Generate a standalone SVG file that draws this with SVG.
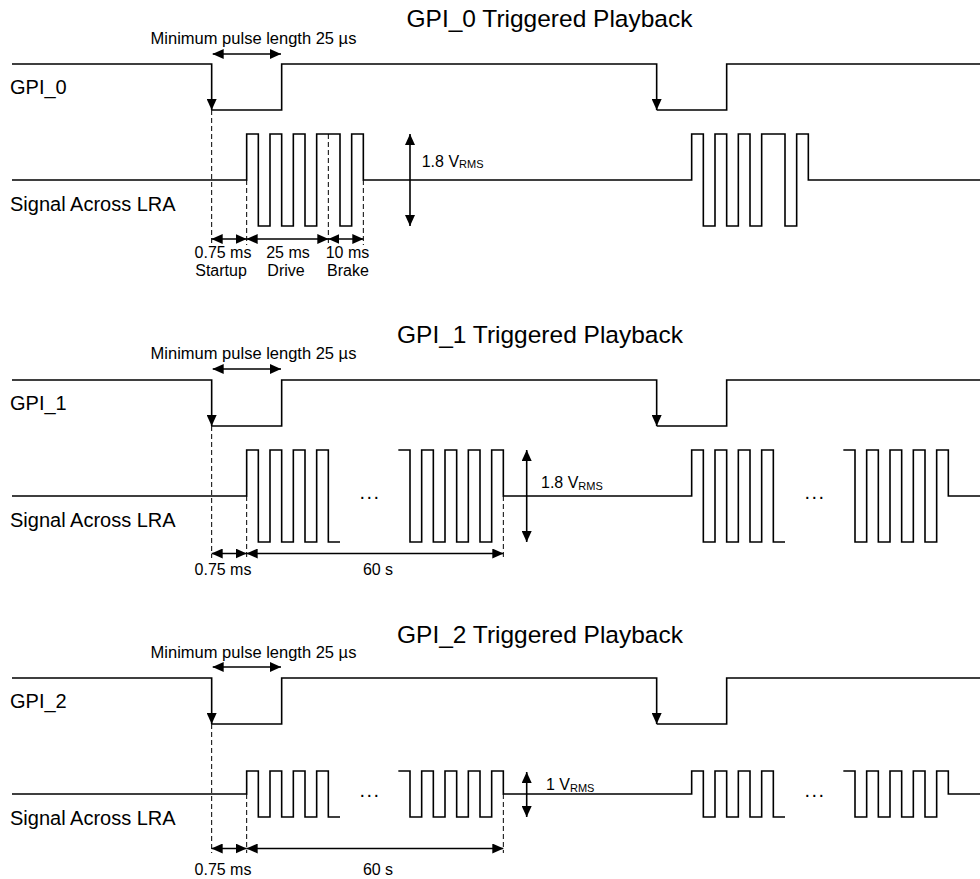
<svg xmlns="http://www.w3.org/2000/svg" width="980" height="879" viewBox="0 0 980 879">
<defs>
<marker id="ah" viewBox="0 0 11 10" refX="11" refY="5" markerWidth="11" markerHeight="10" markerUnits="userSpaceOnUse" orient="auto-start-reverse">
<path d="M0,0 L11,5 L0,10 z" fill="#000"/>
</marker>
</defs>
<style>
text{font-family:"Liberation Sans",Arial,Helvetica,sans-serif;fill:#000}
.title{font-size:24.5px;text-anchor:middle}
.lbl{font-size:20px}
.sm{font-size:16px}
.mid{text-anchor:middle}
.mp{font-size:16.5px;text-anchor:middle}
.dots{font-size:20px;text-anchor:middle;letter-spacing:1.5px}
.wave{fill:none;stroke:#000;stroke-width:1.6;stroke-linejoin:miter}
.dash{fill:none;stroke:#000;stroke-width:1;stroke-dasharray:5,3}
.dim{fill:none;stroke:#000;stroke-width:1.6;marker-start:url(#ah);marker-end:url(#ah)}
.arr{fill:none;stroke:#000;stroke-width:1.6;marker-end:url(#ah)}
</style>

<g id="panel-gpi0">
<text class="title" x="549.5" y="27">GPI_0 Triggered Playback</text>
<text class="mp" x="253.5" y="43.5">Minimum pulse length 25 µs</text>
<text class="lbl" x="10" y="94">GPI_0</text>
<text class="lbl" x="10" y="211">Signal Across LRA</text>
<g id="gpi0-wave">
<path class="arr" d="M12,64 H211.67 V110"/>
<path class="arr" d="M211.67,110 H281.67 V64 H656.67 V110"/>
<path class="wave" d="M656.67,110 H726.67 V64 H980"/>
</g>
<path id="lra0-wave" class="wave" d="M12,180 H246.67 V134 H258.33 V226 H270 V134 H281.67 V226 H293.33 V134 H305 V226 H316.67 V134 H340 V226 H351.67 V134 H363.33 V180 H691.67 V134 H703.33 V226 H715 V134 H726.67 V226 H738.33 V134 H750 V226 H761.67 V134 H785 V226 H796.67 V134 H808.33 V180 H980"/>
<text class="sm mid" x="223" y="258">0.75 ms</text>
<text class="sm mid" x="288" y="258">25 ms</text>
<text class="sm mid" x="347.5" y="258">10 ms</text>
<text class="sm mid" x="221" y="276">Startup</text>
<text class="sm mid" x="286" y="276">Drive</text>
<text class="sm mid" x="348" y="276">Brake</text>
<text class="sm" x="421.7" y="166.5">1.8 V<tspan font-size="11" dy="1.5">RMS</tspan></text>
</g>

<g id="panel-gpi1">
<text class="title" x="540" y="343">GPI_1 Triggered Playback</text>
<text class="mp" x="253.5" y="358.5">Minimum pulse length 25 µs</text>
<text class="lbl" x="10" y="410">GPI_1</text>
<text class="lbl" x="10" y="527">Signal Across LRA</text>
<g id="gpi1-wave">
<path class="arr" d="M12,380 H211.67 V426"/>
<path class="arr" d="M211.67,426 H281.67 V380 H656.67 V426"/>
<path class="wave" d="M656.67,426 H726.67 V380 H980"/>
</g>
<g id="lra1-wave">
<path class="wave" d="M12,496 H246.67 V450 H258.33 V542 H270 V450 H281.67 V542 H293.33 V450 H305 V542 H316.67 V450 H328.33 V542 H340"/>
<path class="wave" d="M398.33,450 H410 V542 H421.67 V450 H433.33 V542 H445 V450 H456.67 V542 H468.33 V450 H480 V542 H491.67 V450 H503.33 V496 H691.67 V450 H703.33 V542 H715 V450 H726.67 V542 H738.33 V450 H750 V542 H761.67 V450 H773.33 V542 H785"/>
<path class="wave" d="M843.33,450 H855 V542 H866.67 V450 H878.33 V542 H890 V450 H901.67 V542 H913.33 V450 H925 V542 H936.67 V450 H948.33 V496 H980"/>
</g>
<text class="dots" x="370" y="499">...</text>
<text class="dots" x="815" y="499">...</text>
<text class="sm mid" x="223" y="575">0.75 ms</text>
<text class="sm mid" x="378" y="575">60 s</text>
<text class="sm" x="541" y="488">1.8 V<tspan font-size="11" dy="1.5">RMS</tspan></text>
</g>

<g id="panel-gpi2">
<text class="title" x="540" y="643">GPI_2 Triggered Playback</text>
<text class="mp" x="253.5" y="658">Minimum pulse length 25 µs</text>
<text class="lbl" x="10" y="708">GPI_2</text>
<text class="lbl" x="10" y="825">Signal Across LRA</text>
<g id="gpi2-wave">
<path class="arr" d="M12,678 H211.67 V724"/>
<path class="arr" d="M211.67,724 H281.67 V678 H656.67 V724"/>
<path class="wave" d="M656.67,724 H726.67 V678 H980"/>
</g>
<g id="lra2-wave">
<path class="wave" d="M12,794 H246.67 V771 H258.33 V817 H270 V771 H281.67 V817 H293.33 V771 H305 V817 H316.67 V771 H328.33 V817 H340"/>
<path class="wave" d="M398.33,771 H410 V817 H421.67 V771 H433.33 V817 H445 V771 H456.67 V817 H468.33 V771 H480 V817 H491.67 V771 H503.33 V794 H691.67 V771 H703.33 V817 H715 V771 H726.67 V817 H738.33 V771 H750 V817 H761.67 V771 H773.33 V817 H785"/>
<path class="wave" d="M843.33,771 H855 V817 H866.67 V771 H878.33 V817 H890 V771 H901.67 V817 H913.33 V771 H925 V817 H936.67 V771 H948.33 V794 H980"/>
</g>
<text class="dots" x="370" y="797">...</text>
<text class="dots" x="815" y="797">...</text>
<text class="sm mid" x="223" y="875">0.75 ms</text>
<text class="sm mid" x="378" y="875">60 s</text>
<text class="sm" x="546" y="790">1 V<tspan font-size="11" dy="1.5">RMS</tspan></text>
</g>

<g id="connectors">
<line class="dim" x1="212.7" y1="54" x2="281" y2="54"/>
<line class="dash" x1="211.67" y1="110" x2="211.67" y2="245"/>
<line class="dash" x1="246.67" y1="180" x2="246.67" y2="245"/>
<line class="dash" x1="328.33" y1="134" x2="328.33" y2="245"/>
<line class="dash" x1="363.33" y1="180" x2="363.33" y2="245"/>
<line class="dim" x1="211.67" y1="239" x2="246.67" y2="239"/>
<line class="dim" x1="246.67" y1="239" x2="328.33" y2="239"/>
<line class="dim" x1="328.33" y1="239" x2="363.33" y2="239"/>
<line class="dim" x1="410" y1="134" x2="410" y2="226"/>

<line class="dim" x1="212.7" y1="369" x2="281" y2="369"/>
<line class="dash" x1="211.67" y1="426" x2="211.67" y2="558"/>
<line class="dash" x1="246.67" y1="496" x2="246.67" y2="558"/>
<line class="dash" x1="503.33" y1="496" x2="503.33" y2="558"/>
<line class="dim" x1="211.67" y1="553.5" x2="246.67" y2="553.5"/>
<line class="dim" x1="246.67" y1="553.5" x2="503.33" y2="553.5"/>
<line class="dim" x1="526.7" y1="450" x2="526.7" y2="542"/>

<line class="dim" x1="212.7" y1="667" x2="281" y2="667"/>
<line class="dash" x1="211.67" y1="724" x2="211.67" y2="853"/>
<line class="dash" x1="246.67" y1="794" x2="246.67" y2="853"/>
<line class="dash" x1="503.33" y1="794" x2="503.33" y2="853"/>
<line class="dim" x1="211.67" y1="848.5" x2="246.67" y2="848.5"/>
<line class="dim" x1="246.67" y1="848.5" x2="503.33" y2="848.5"/>
<line class="dim" x1="526.7" y1="772" x2="526.7" y2="817"/>
</g>
</svg>
